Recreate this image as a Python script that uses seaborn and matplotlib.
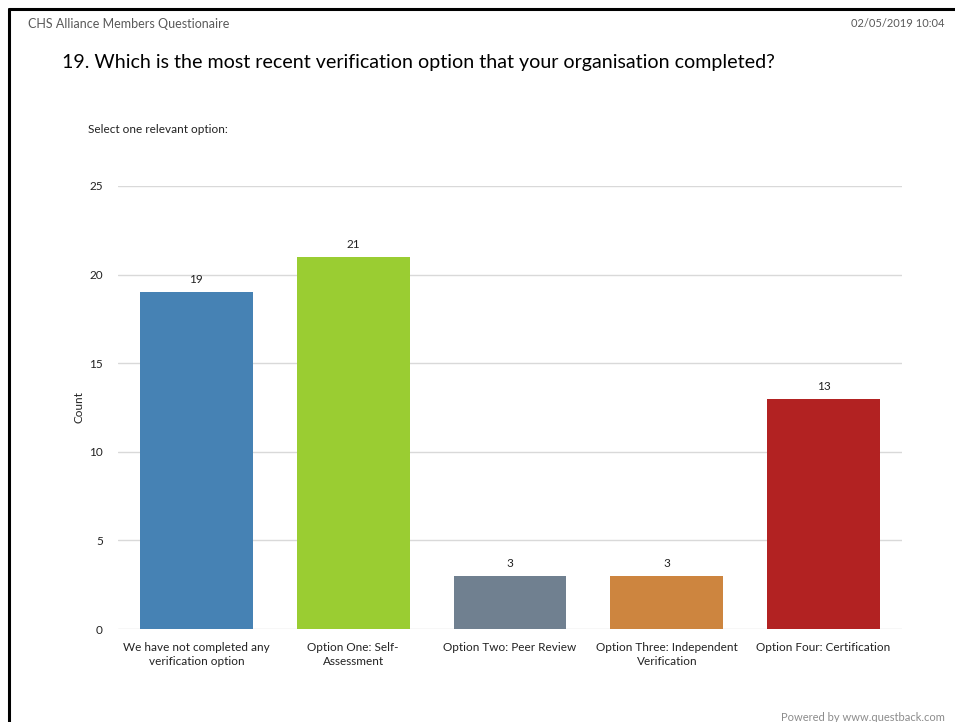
import matplotlib
matplotlib.use("Agg")
import matplotlib.pyplot as plt
import seaborn as sns
import pandas as pd

categories = [
    "We have not completed any\nverification option",
    "Option One: Self-\nAssessment",
    "Option Two: Peer Review",
    "Option Three: Independent\nVerification",
    "Option Four: Certification",
]
counts = [19, 21, 3, 3, 13]
bar_colors = ["#4682B4", "#9ACD32", "#708090", "#CD853F", "#B22222"]
y_ticks = [0, 5, 10, 15, 20, 25]

sns.set_theme(style="white")
plt.rcParams["font.family"] = ["Lato", "DejaVu Sans"]

df = pd.DataFrame({"option": categories, "count": counts})

fig = plt.figure(figsize=(9.55, 7.22), dpi=100)
ax = fig.add_axes([0.1236, 0.1288, 0.8209, 0.6136])

sns.barplot(data=df, x="option", y="count", hue="option", palette=bar_colors,
            width=0.72, legend=False, ax=ax, saturation=1, linewidth=0)

for i, v in enumerate(counts):
    ax.annotate(str(v), (i, v), xytext=(0, 5), textcoords="offset points",
                ha="center", va="bottom", fontsize=8.5, color="#222222")

ax.set_ylim(0, 25)
ax.set_yticks(y_ticks)
ax.set_xlim(-0.5, len(categories) - 0.5)
ax.grid(axis="y", color="#d9d9d9", linewidth=1)
ax.set_axisbelow(True)
for s in ax.spines.values():
    s.set_visible(False)
ax.tick_params(axis="both", length=0, labelsize=8.5, colors="#222222")
ax.tick_params(axis="y", pad=11)
ax.tick_params(axis="x", pad=9)
for lbl in ax.get_xticklabels():
    lbl.set_linespacing(1.4)
ax.set_xlabel("")
ax.set_ylabel("Count", fontsize=8.5, color="#222222", labelpad=3)

# page frame
fig.add_artist(plt.Line2D([0.009, 1.0], [0.988, 0.988], color="black", lw=2.2))
fig.add_artist(plt.Line2D([0.0095, 0.0095], [0.0, 0.988], color="black", lw=2.2))

fig.text(0.029, 0.967, "CHS Alliance Members Questionaire", fontsize=9,
         color="#595959", va="center", ha="left")
fig.text(0.989, 0.967, "02/05/2019 10:04", fontsize=8, color="#595959",
         va="center", ha="right")
fig.text(0.065, 0.913, "19. Which is the most recent verification option that your organisation completed?",
         fontsize=14.1, color="black", va="center", ha="left")
fig.text(0.092, 0.820, "Select one relevant option:", fontsize=8.5, color="#222222",
         va="center", ha="left")
fig.text(0.989, 0.006, "Powered by www.questback.com", fontsize=8, color="#8c8c8c",
         va="center", ha="right")

fig.savefig("out.png", dpi=100)
